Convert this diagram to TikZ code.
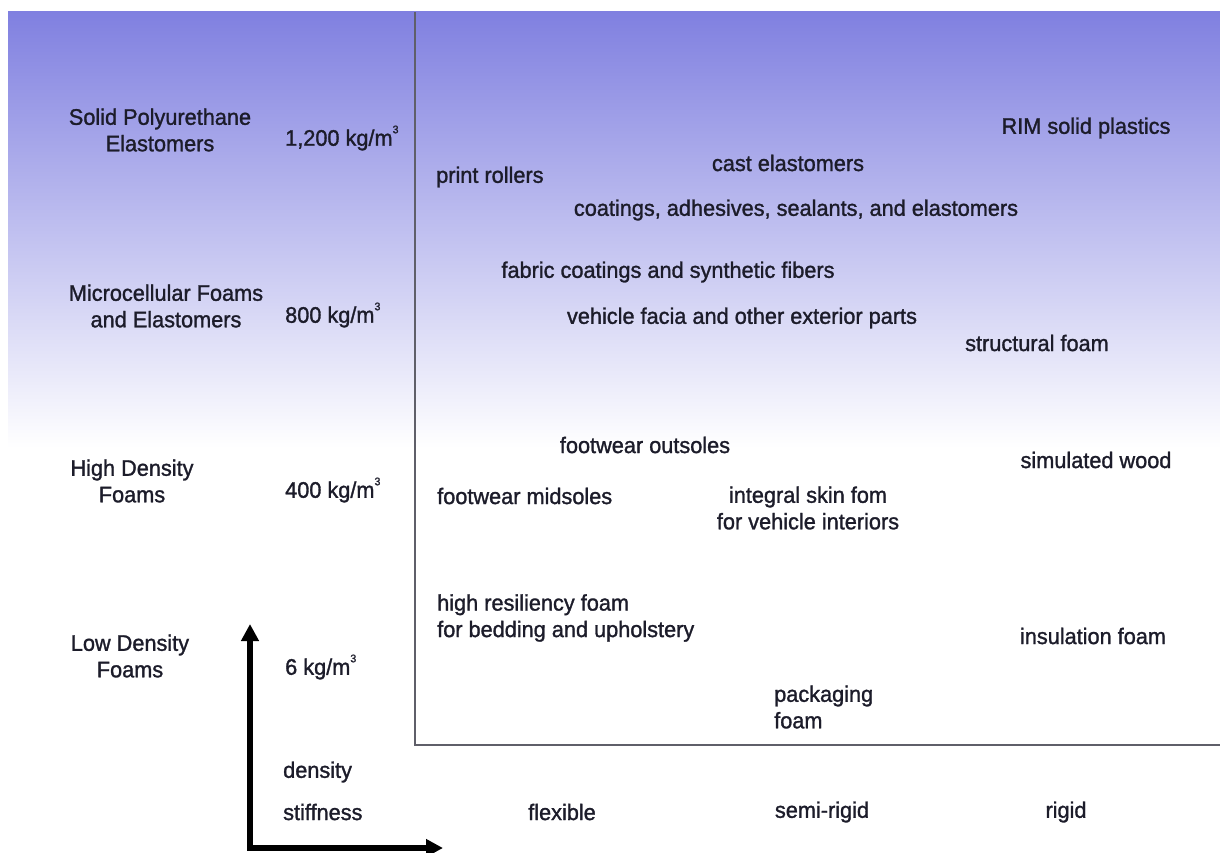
\documentclass[tikz,border=0pt]{standalone}
\usepackage{fontspec}
\setmainfont{Liberation Sans}[FakeStretch=0.965, FakeBold=1.3]
\usetikzlibrary{arrows.meta, positioning}
\definecolor{inktext}{RGB}{28,28,42}
\definecolor{slidetop}{RGB}{128,128,224}
\definecolor{framegray}{RGB}{95,95,105}
\newcommand{\kgcubic}[1]{#1 kg/m\raisebox{1.05ex}{\fontsize{11}{11}\selectfont 3}}

\begin{document}
\begin{tikzpicture}[x=1pt, y=-1pt, font=\fontsize{22.5}{26.5}\selectfont, text=inktext,
		every node/.style={inner sep=0pt},
		cat/.style={align=center},
		dens/.style={anchor=west},
		app/.style={align=center},
		appl/.style={anchor=west, align=left}]
	\useasboundingbox (0,0) rectangle (1220,853);
	\shade[top color=slidetop, bottom color=white] (8,12) rectangle (1220,448);
	
	% frame of the chart
	\coordinate (ftop) at (415,12);
	\coordinate (fcorner) at (415,745);
	\coordinate (fright) at (1220,745);
	\draw[framegray, line width=2pt] (ftop) -- (fcorner) -- (fright);
	
	% density classes
	\node[cat] (solid) at (160,130) {Solid Polyurethane\\Elastomers};
	\node[dens] (d1200) at (285,138) {\kgcubic{1,200}};
	\node[cat] (micro) at (166,306) {Microcellular Foams\\and Elastomers};
	\node[dens] (d800) at (285,315) {\kgcubic{800}};
	\node[cat] (high) at (132,481) {High Density\\Foams};
	\node[dens] (d400) at (285,490) {\kgcubic{400}};
	\node[cat] (low) at (130,656) {Low Density\\Foams};
	\node[dens] (d6) at (285,667) {\kgcubic{6}};
	
	% applications
	\node[app] (rim) at (1086,128) {RIM solid plastics};
	\node[app] (cast) at (788,163) {cast elastomers};
	\node[appl] (rollers) at (436,177) {print rollers};
	\node[app] (coat) at (796,210) {coatings, adhesives, sealants, and elastomers};
	\node[app] (fabric) at (668,272) {fabric coatings and synthetic fibers};
	\node[app] (facia) at (742,318) {vehicle facia and other exterior parts};
	\node[app] (struct) at (1037,343) {structural foam};
	\node[app] (outsole) at (645,445) {footwear outsoles};
	\node[app] (wood) at (1096,460) {simulated wood};
	\node[appl] (midsole) at (437,496) {footwear midsoles};
	\node[app] (skin) at (808,508) {integral skin fom\\for vehicle interiors};
	\node[appl] (resil) at (437,618) {high resiliency foam\\for bedding and upholstery};
	\node[app] (insul) at (1093,636) {insulation foam};
	\node[appl] (pack) at (774,707) {packaging\\foam};
	
	% axes
	\node[dens] (density) at (283,772) {density};
	\node[dens] (stiff) at (283,812) {stiffness};
	\node (flex) at (562,812) {flexible};
	\node (semi) at (822,812) {semi-rigid};
	\node (rigid) at (1066,812) {rigid};
	
	\coordinate (origin) at (250,848);
	\coordinate (ytip) at (250,624);
	\coordinate (xtip) at (443,848);
	\draw[line width=5.5pt, {Triangle[width=17pt,length=17pt]}-{Triangle[width=17pt,length=17pt]}] (ytip) -- (origin) -- (xtip);
\end{tikzpicture}
\end{document}
